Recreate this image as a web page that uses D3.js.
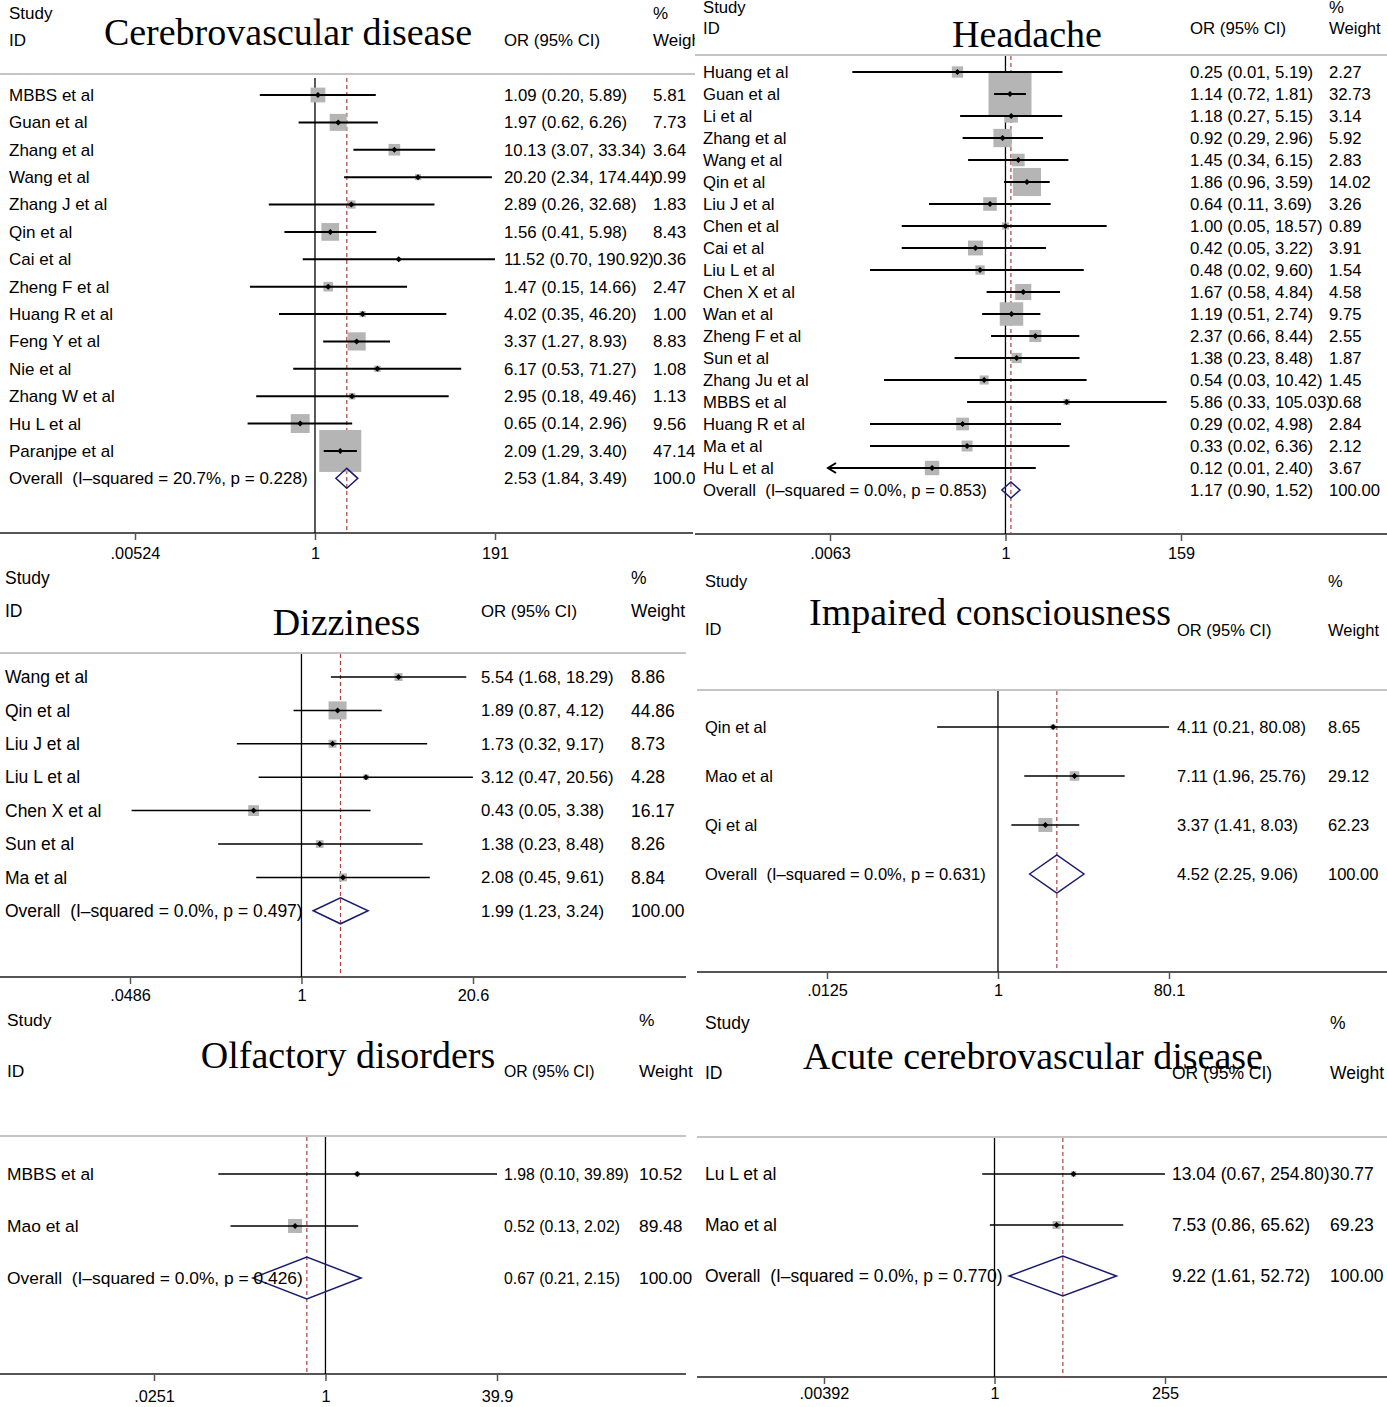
<!DOCTYPE html>
<html><head><meta charset="utf-8">
<script src="https://cdn.jsdelivr.net/npm/d3@7"></script>
<style>body{margin:0;background:#fff}</style>
</head><body><svg id="c" width="1387" height="1407"></svg>
<script>
// ---------- DATA ----------
// Panel 1: Cerebrovascular disease
const cvdStudies = ["MBBS et al","Guan et al","Zhang et al","Wang et al","Zhang J et al","Qin et al","Cai et al","Zheng F et al","Huang R et al","Feng Y et al","Nie et al","Zhang W et al","Hu L et al","Paranjpe et al"];
const cvdOR  = [1.09,1.97,10.13,20.20,2.89,1.56,11.52,1.47,4.02,3.37,6.17,2.95,0.65,2.09];
const cvdLo  = [0.20,0.62,3.07,2.34,0.26,0.41,0.70,0.15,0.35,1.27,0.53,0.18,0.14,1.29];
const cvdHi  = [5.89,6.26,33.34,174.44,32.68,5.98,190.92,14.66,46.20,8.93,71.27,49.46,2.96,3.40];
const cvdWeight = [5.81,7.73,3.64,0.99,1.83,8.43,0.36,2.47,1.00,8.83,1.08,1.13,9.56,47.14];
const cvdOverall = [2.53,1.84,3.49];
const cvdHet = ["20.7%","0.228"];
const cvdTicks = [0.00524,1,191];
const cvdTickLabels = [".00524","1","191"];

// Panel 2: Headache
const hdStudies = ["Huang et al","Guan et al","Li et al","Zhang et al","Wang et al","Qin et al","Liu J et al","Chen et al","Cai et al","Liu L et al","Chen X et al","Wan et al","Zheng F et al","Sun et al","Zhang Ju et al","MBBS et al","Huang R et al","Ma et al","Hu L et al"];
const hdOR = [0.25,1.14,1.18,0.92,1.45,1.86,0.64,1.00,0.42,0.48,1.67,1.19,2.37,1.38,0.54,5.86,0.29,0.33,0.12];
const hdLo = [0.012,0.72,0.27,0.29,0.34,0.96,0.11,0.05,0.05,0.02,0.58,0.51,0.66,0.23,0.03,0.33,0.02,0.02,0.006];
const hdHi = [5.19,1.81,5.15,2.96,6.15,3.59,3.69,18.57,3.22,9.60,4.84,2.74,8.44,8.48,10.42,105.03,4.98,6.36,2.40];
const hdWeight = [2.27,32.73,3.14,5.92,2.83,14.02,3.26,0.89,3.91,1.54,4.58,9.75,2.55,1.87,1.45,0.68,2.84,2.12,3.67];
const hdOverall = [1.17,0.90,1.52];
const hdHet = ["0.0%","0.853"];
const hdTicks = [0.0063,1,159];
const hdTickLabels = [".0063","1","159"];

// Panel 3: Dizziness
const dzStudies = ["Wang et al","Qin et al","Liu J et al","Liu L et al","Chen X et al","Sun et al","Ma et al"];
const dzOR = [5.54,1.89,1.73,3.12,0.43,1.38,2.08];
const dzLo = [1.68,0.87,0.32,0.47,0.05,0.23,0.45];
const dzHi = [18.29,4.12,9.17,20.56,3.38,8.48,9.61];
const dzWeight = [8.86,44.86,8.73,4.28,16.17,8.26,8.84];
const dzOverall = [1.99,1.23,3.24];
const dzHet = ["0.0%","0.497"];
const dzTicks = [0.0486,1,20.6];
const dzTickLabels = [".0486","1","20.6"];

// Panel 4: Impaired consciousness
const icStudies = ["Qin et al","Mao et al","Qi et al"];
const icOR = [4.11,7.11,3.37];
const icLo = [0.21,1.96,1.41];
const icHi = [80.08,25.76,8.03];
const icWeight = [8.65,29.12,62.23];
const icOverall = [4.52,2.25,9.06];
const icHet = ["0.0%","0.631"];
const icTicks = [0.0125,1,80.1];
const icTickLabels = [".0125","1","80.1"];

// Panel 5: Olfactory disorders
const olStudies = ["MBBS et al","Mao et al"];
const olOR = [1.98,0.52];
const olLo = [0.10,0.13];
const olHi = [39.89,2.02];
const olWeight = [10.52,89.48];
const olOverall = [0.67,0.21,2.15];
const olHet = ["0.0%","0.426"];
const olTicks = [0.0251,1,39.9];
const olTickLabels = [".0251","1","39.9"];

// Panel 6: Acute cerebrovascular disease
const acStudies = ["Lu L et al","Mao et al"];
const acOR = [13.04,7.53];
const acLo = [0.67,0.86];
const acHi = [254.80,65.62];
const acWeight = [30.77,69.23];
const acOverall = [9.22,1.61,52.72];
const acHet = ["0.0%","0.770"];
const acTicks = [0.00392,1,255];
const acTickLabels = [".00392","1","255"];

const overallWeight = 100.00;

// ---------- LAYOUT ----------
const panels = [
 {title:"Cerebrovascular disease", st:cvdStudies, or:cvdOR, lo:cvdLo, hi:cvdHi, w:cvdWeight, ov:cvdOverall, het:cvdHet, ticks:cvdTicks, tl:cvdTickLabels,
  L:{clip:[0,695,0,560], fs:17, fsOR:16.8, studyY:13, idY:40, pctY:13, hdrY:40, labelX:9, orX:504, wX:653, titleX:288, titleY:45,
     sepY:74, sepX:[0,695], vTop:78, row0:95, step:27.38, axisY:533, axisX:[0,693], range:[135,495], boxMax:42, dHalf:10, tickLabY:553, ciW:2}},
 {title:"Headache", st:hdStudies, or:hdOR, lo:hdLo, hi:hdHi, w:hdWeight, ov:hdOverall, het:hdHet, ticks:hdTicks, tl:hdTickLabels,
  L:{clip:[695,1387,0,560], fs:16.7, fsOR:16.8, studyY:7.5, idY:28, pctY:7.5, hdrY:28, labelX:703, orX:1190, wX:1329, titleX:1027, titleY:47,
     sepY:55, sepX:[695,1387], vTop:56, row0:72, step:22, axisY:534, axisX:[695,1387], range:[830,1181], boxMax:43, dHalf:8, tickLabY:553, ciW:2}},
 {title:"Dizziness", st:dzStudies, or:dzOR, lo:dzLo, hi:dzHi, w:dzWeight, ov:dzOverall, het:dzHet, ticks:dzTicks, tl:dzTickLabels,
  L:{clip:[0,695,560,1005], fs:17.5, fsOR:16.8, studyY:578, idY:611, pctY:578, hdrY:611, labelX:5, orX:481, wX:631, titleX:346.5, titleY:635,
     sepY:653, sepX:[0,686], vTop:654, row0:677, step:33.4, axisY:977, axisX:[0,686], range:[130,473], boxMax:18, dHalf:13, tickLabY:995, ciW:1.5}},
 {title:"Impaired consciousness", st:icStudies, or:icOR, lo:icLo, hi:icHi, w:icWeight, ov:icOverall, het:icHet, ticks:icTicks, tl:icTickLabels,
  L:{clip:[695,1387,560,1005], fs:16.5, fsOR:16.5, studyY:581, idY:629, pctY:581, hdrY:630, labelX:705, orX:1177, wX:1328, titleX:990, titleY:625,
     sepY:690, sepX:[697,1387], vTop:691, row0:727, step:49, axisY:972, axisX:[697,1387], range:[827,1169], boxMax:14, dHalf:19, tickLabY:990, ciW:1.3}},
 {title:"Olfactory disorders", st:olStudies, or:olOR, lo:olLo, hi:olHi, w:olWeight, ov:olOverall, het:olHet, ticks:olTicks, tl:olTickLabels,
  L:{clip:[0,695,1005,1407], fs:17.4, fsOR:15.8, studyY:1020, idY:1071, pctY:1020, hdrY:1071, labelX:7, orX:504, wX:639, titleX:348, titleY:1068,
     sepY:1136, sepX:[0,686], vTop:1137, row0:1174, step:52, axisY:1374, axisX:[0,686], range:[154,497], boxMax:14, dHalf:21, tickLabY:1396, ciW:1.3}},
 {title:"Acute cerebrovascular disease", st:acStudies, or:acOR, lo:acLo, hi:acHi, w:acWeight, ov:acOverall, het:acHet, ticks:acTicks, tl:acTickLabels,
  L:{clip:[695,1387,1005,1407], fs:17.5, fsOR:17.5, studyY:1023, idY:1073, pctY:1023, hdrY:1073, labelX:705, orX:1172, wX:1330, titleX:1033, titleY:1069,
     sepY:1137, sepX:[697,1387], vTop:1138, row0:1174, step:51, axisY:1377, axisX:[697,1387], range:[824,1165], boxMax:8, dHalf:20, tickLabY:1393, ciW:1.3}}
];

const SANS = "'Liberation Sans', Arial, Helvetica, sans-serif";
const SERIF = "'Liberation Serif', 'Times New Roman', serif";
const svg = d3.select("#c");
const defs = svg.append("defs");
const f2 = v => v.toFixed(2);

panels.forEach((p, pi) => {
  const L = p.L;
  defs.append("clipPath").attr("id","clip"+pi).append("rect")
    .attr("x",L.clip[0]).attr("y",L.clip[2]).attr("width",L.clip[1]-L.clip[0]).attr("height",L.clip[3]-L.clip[2]);
  const g = svg.append("g").attr("clip-path",`url(#clip${pi})`);
  const x = d3.scaleLog().domain([p.ticks[0], p.ticks[2]]).range(L.range);
  const yRow = i => L.row0 + i * L.step;
  const txt = (s, xx, yy, fs, opts={}) => g.append("text").attr("x",xx).attr("y",yy).attr("dy","0.35em")
      .attr("font-family",opts.serif?SERIF:SANS).attr("font-size",fs).attr("fill","#000")
      .style("white-space","pre").attr("text-anchor",opts.anchor||"start").text(s);

  // header
  txt("Study", L.labelX, L.studyY, L.fs);
  txt("ID", L.labelX, L.idY, L.fs);
  txt("%", L.wX, L.pctY, L.fs);
  txt("Weight", L.wX, L.hdrY, L.fs);
  txt("OR (95% CI)", L.orX, L.hdrY, L.fsOR);
  g.append("text").attr("x",L.titleX).attr("y",L.titleY).attr("text-anchor","middle")
    .attr("font-family",SERIF).attr("font-size",38).attr("fill","#000").text(p.title);

  // separator
  g.append("line").attr("x1",L.sepX[0]).attr("x2",L.sepX[1]).attr("y1",L.sepY).attr("y2",L.sepY)
    .attr("stroke","#c4c4c4").attr("stroke-width",2);

  // axis
  g.append("line").attr("x1",L.axisX[0]).attr("x2",L.axisX[1]).attr("y1",L.axisY).attr("y2",L.axisY)
    .attr("stroke","#555").attr("stroke-width",2);
  const ax = d3.axisBottom(x).tickValues(p.ticks).tickFormat((d,i)=>p.tl[i]).tickSize(7).tickSizeOuter(0);
  const ag = g.append("g").attr("transform",`translate(0,${L.axisY})`).call(ax);
  ag.select(".domain").remove();
  ag.selectAll(".tick line").attr("stroke","#555").attr("stroke-width",1.5);
  ag.selectAll(".tick text").attr("y", L.tickLabY - L.axisY).attr("dy","0.35em")
    .attr("font-family",SANS).attr("font-size",16.3).attr("fill","#000");

  // reference lines
  g.append("line").attr("x1",x(1)).attr("x2",x(1)).attr("y1",L.vTop).attr("y2",L.axisY)
    .attr("stroke","#000").attr("stroke-width",1.3);
  g.append("line").attr("x1",x(p.ov[0])).attr("x2",x(p.ov[0])).attr("y1",L.vTop).attr("y2",L.axisY)
    .attr("stroke","#b0403f").attr("stroke-width",1.2).attr("stroke-dasharray","4,3");

  const wmax = d3.max(p.w);
  const dmin = p.ticks[0], dmax = p.ticks[2];
  // boxes
  p.st.forEach((s,i) => {
    const sz = L.boxMax * Math.sqrt(p.w[i] / wmax);
    g.append("rect").attr("x",x(p.or[i]) - sz/2).attr("y",yRow(i) - sz/2).attr("width",sz).attr("height",sz)
      .attr("fill","#b5b5b5");
  });
  // CI lines + markers + text
  p.st.forEach((s,i) => {
    const y = yRow(i);
    const lo = Math.max(p.lo[i], dmin), hi = Math.min(p.hi[i], dmax);
    g.append("line").attr("x1",x(lo)).attr("x2",x(hi)).attr("y1",y).attr("y2",y)
      .attr("stroke","#000").attr("stroke-width",L.ciW);
    if (p.lo[i] < dmin) {
      const ax0 = x(dmin) - 2;
      g.append("path").attr("d",`M${ax0+8},${y-5}L${ax0},${y}L${ax0+8},${y+5}`)
        .attr("fill","none").attr("stroke","#000").attr("stroke-width",L.ciW);
    }
    const cx = x(p.or[i]), m = 3;
    g.append("path").attr("d",`M${cx-m},${y}L${cx},${y-m}L${cx+m},${y}L${cx},${y+m}Z`).attr("fill","#000");
    txt(s, L.labelX, y, L.fs);
    txt(`${f2(p.or[i])} (${f2(p.lo[i])}, ${f2(p.hi[i])})`, L.orX, y, L.fsOR);
    txt(f2(p.w[i]), L.wX, y, L.fs);
  });
  // overall
  const yo = yRow(p.st.length);
  const [o, ol, oh] = p.ov;
  g.append("path").attr("d",`M${x(ol)},${yo}L${x(o)},${yo-L.dHalf}L${x(oh)},${yo}L${x(o)},${yo+L.dHalf}Z`)
    .attr("fill","none").attr("stroke","#1c1c6e").attr("stroke-width",1.5);
  txt(`Overall  (I\u2013squared = ${p.het[0]}, p = ${p.het[1]})`, L.labelX, yo, L.fs);
  txt(`${f2(o)} (${f2(ol)}, ${f2(oh)})`, L.orX, yo, L.fsOR);
  txt(f2(overallWeight), L.wX, yo, L.fs);
});
</script></body></html>
